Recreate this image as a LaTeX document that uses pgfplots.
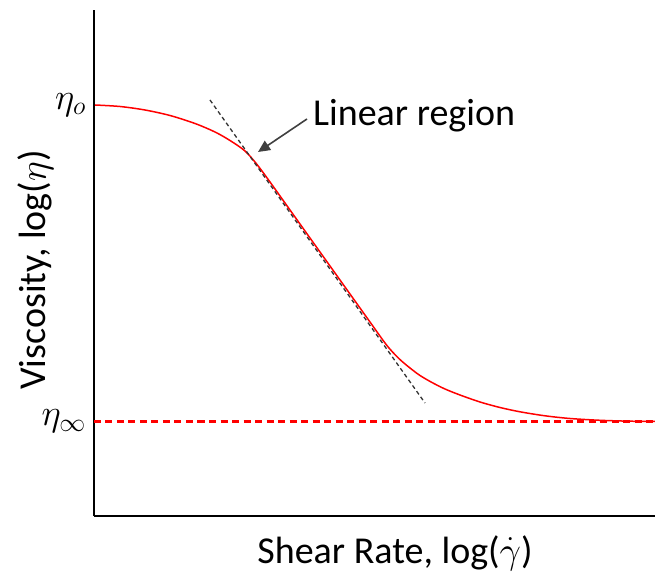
\RequirePackage{fix-cm}
\documentclass[border=0pt]{standalone}
\usepackage{pgfplots}
\pgfplotsset{compat=1.18}
\usepackage{fontspec}
\setmainfont{Carlito}
\usetikzlibrary{arrows.meta}
\pgfplotstableread{
x y
95 468
120 466.5
145 463
170 457.5
195 449.5
215 441
230 432.5
245 422
257 408.5
270 391
290 363
310 335
330 307
350 279
370 251
385 230
393 220.5
401 212.5
410 205
420 197.5
432 190.5
445 184
460 178
480 171
500 165.5
520 161.2
545 157.2
570 154.5
600 152.7
630 151.8
655 151.5
}\curve
\pgfplotstableread{
x y
94 151.5
655 151.5
}\inftyline
\definecolor{etared}{RGB}{255,0,0}
\begin{document}
\begin{tikzpicture}
\begin{axis}[
  scale only axis,
  width=561bp, height=506bp,
  xmin=94, xmax=655, ymin=57, ymax=563,
  axis lines=left,
  axis line style={-, line width=2.6bp, black},
  xtick=\empty,
  ytick={468,151.5},
  yticklabels={$\eta_o$,$\eta_\infty$},
  major tick length=0pt,
  yticklabel style={font=\fontsize{37bp}{42bp}\selectfont, inner sep=0pt, xshift=-8bp},
  xlabel={Shear Rate, log($\dot{\gamma}$)},
  ylabel={Viscosity, log($\eta$)},
  label style={font=\fontsize{38bp}{44bp}\selectfont},
  xlabel style={at={(axis cs:395,10)}, anchor=base},
  ylabel style={at={(axis cs:46,303)}, anchor=base, rotate=0},
  clip=false,
]
\addplot[draw=etared, line width=2.1bp, dash pattern=on 7bp off 4.5bp, no marks] table[x=x,y=y] {\inftyline};
\addplot[draw=etared, line width=1.5bp, smooth, no marks] table[x=x,y=y] {\curve};
\addplot[draw=black!80, line width=1.3bp, dash pattern=on 4bp off 3bp, no marks] coordinates {(210,473) (425,170)};
\draw[black!75, line width=1.6bp, -{Triangle[length=12bp,width=11bp]}] (axis cs:307,454) -- (axis cs:258,421);
\node[anchor=base west, inner sep=0pt, font=\fontsize{38bp}{44bp}\selectfont] at (axis cs:313,447) {Linear region};
\coordinate (bl) at (axis cs:0,0);
\coordinate (tr) at (axis cs:655,573);
\end{axis}
\pgfresetboundingbox
\path[use as bounding box] (bl) rectangle (tr);
\end{tikzpicture}
\end{document}
